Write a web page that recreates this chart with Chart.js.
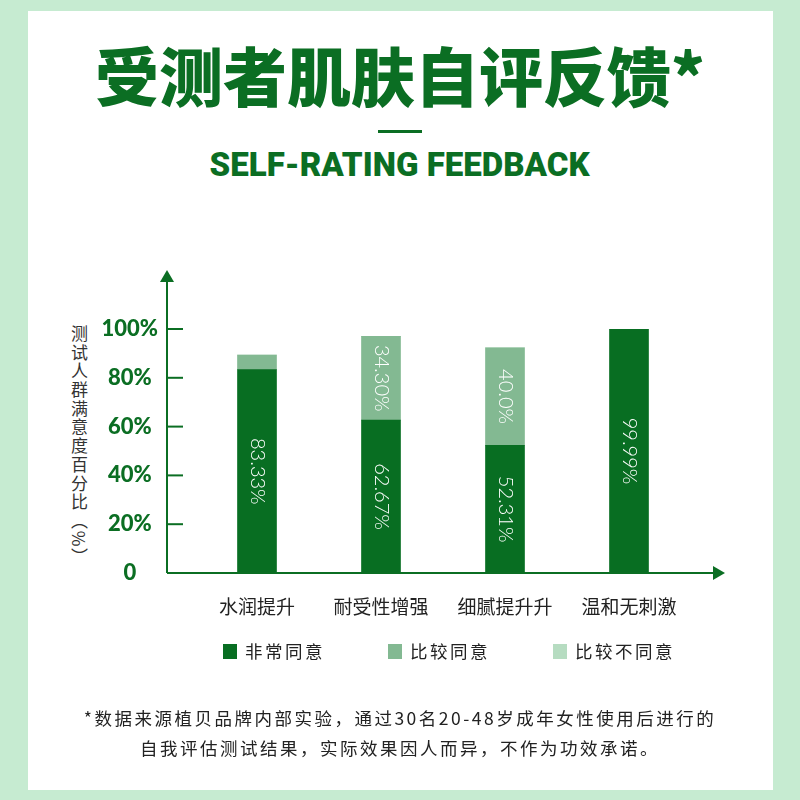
<!DOCTYPE html>
<html>
<head>
<meta charset="utf-8">
<script src="https://cdn.jsdelivr.net/npm/chart.js@4.4.0/dist/chart.umd.min.js"></script>
<style>
html, body { margin: 0; padding: 0; }
body { width: 800px; height: 800px; background: #c6ebd1; position: relative; overflow: hidden; font-family: 'Noto Sans CJK SC', sans-serif; }
.panel { position: absolute; left: 28px; top: 11px; width: 745px; height: 779px; background: #fff; }
.title { position: absolute; left: 0; width: 800px; top: 34px; text-align: center; font-size: 64px; font-weight: 900; color: #0b6e23; line-height: 78px; white-space: nowrap; }
.rule { position: absolute; left: 378px; top: 130px; width: 44px; height: 3px; background: #0b6e23; }
.sub { position: absolute; left: 0; width: 800px; top: 145px; text-align: center; font-family: Roboto, sans-serif; font-weight: 900; font-size: 33px; line-height: 40px; color: #0b6e23; white-space: nowrap; }
.sub span, .title span { display: inline-block; transform-origin: center; }
.ytitle { position: absolute; left: 67px; top: 325px; writing-mode: vertical-rl; font-size: 17px; letter-spacing: 1.7px; color: #333; }
#chart { position: absolute; left: 0; top: 0; }
.legend { position: absolute; left: 223px; top: 641px; display: flex; font-size: 17.5px; letter-spacing: 2.5px; line-height: 20px; color: #222; }
.legend .item { display: flex; align-items: center; margin-right: 63px; }
.legend .box { width: 14px; height: 15px; margin-right: 8px; }
.note { position: absolute; left: 0; width: 800px; top: 703px; text-align: center; font-size: 17.5px; letter-spacing: 2.5px; line-height: 30px; color: #222; }
</style>
</head>
<body>
<div class="panel"></div>
<div class="title"><span id="titleText">受测者肌肤自评反馈*</span></div>
<div class="rule"></div>
<div class="sub"><span id="subText">SELF-RATING FEEDBACK</span></div>
<div class="ytitle">测试人群满意度百分比（%）</div>
<canvas id="chart" width="800" height="800"></canvas>
<div class="legend" id="legend"></div>
<div class="note">*数据来源植贝品牌内部实验，通过30名20-48岁成年女性使用后进行的<br>自我评估测试结果，实际效果因人而异，不作为功效承诺。</div>
<script>
// 数据
const categories = ['水润提升', '耐受性增强', '细腻提升升', '温和无刺激'];
const seriesNames = ['非常同意', '比较同意', '比较不同意'];
const veryAgree = [83.33, 62.67, 52.31, 99.99];
const agree = [6, 34.30, 40.0, 0];
const disagree = [0, 0, 0, 0];
const veryAgreeLabels = ['83.33%', '62.67%', '52.31%', '99.99%'];
const agreeLabels = ['', '34.30%', '40.0%', ''];
const yTicks = [0, 20, 40, 60, 80, 100];

const green = '#0b6e23';
const colors = ['#086e22', '#83b992', '#b6dcc1'];

// 标题宽度微调
const fitWidth = (id, target) => {
    const el = document.getElementById(id);
    const w = el.getBoundingClientRect().width;
    if (w > 0) el.style.transform = 'scaleX(' + (target / w) + ')';
};
fitWidth('subText', 380);

// 图例
document.getElementById('legend').innerHTML = seriesNames.map((name, i) => `
    <div class="item"><span class="box" style="background:${colors[i]}"></span>${name}</div>
`).join('');

// 坐标轴箭头和刻度线
const axisArrows = {
    id: 'axisArrows',
    afterDatasetsDraw(chart) {
        const { ctx, scales: { x, y } } = chart;
        const ax = x.left - 28;
        const base = y.getPixelForValue(0);
        const yTop = y.top - 59;
        const xEnd = x.right + 34;
        ctx.save();
        ctx.strokeStyle = green;
        ctx.fillStyle = green;
        ctx.lineWidth = 2;
        ctx.beginPath();
        ctx.moveTo(ax, base);
        ctx.lineTo(ax, yTop + 10);
        ctx.moveTo(ax, base);
        ctx.lineTo(xEnd - 10, base);
        ctx.stroke();
        yTicks.filter(v => v > 0).forEach(v => {
            const py = y.getPixelForValue(v);
            ctx.beginPath();
            ctx.moveTo(ax, py);
            ctx.lineTo(ax + 16, py);
            ctx.stroke();
        });
        ctx.beginPath();
        ctx.moveTo(ax, yTop);
        ctx.lineTo(ax - 7, yTop + 12);
        ctx.lineTo(ax + 7, yTop + 12);
        ctx.closePath();
        ctx.fill();
        ctx.beginPath();
        ctx.moveTo(xEnd, base);
        ctx.lineTo(xEnd - 12, base - 7);
        ctx.lineTo(xEnd - 12, base + 7);
        ctx.closePath();
        ctx.fill();
        ctx.restore();
    }
};

// 柱内竖排数值
const barLabels = {
    id: 'barLabels',
    afterDatasetsDraw(chart) {
        const { ctx } = chart;
        const texts = [veryAgreeLabels, agreeLabels];
        ctx.save();
        ctx.fillStyle = '#fff';
        ctx.font = '300 20px Lato, "Open Sans", sans-serif';
        ctx.textAlign = 'center';
        ctx.textBaseline = 'middle';
        texts.forEach((list, di) => {
            chart.getDatasetMeta(di).data.forEach((bar, i) => {
                if (!list[i]) return;
                ctx.save();
                ctx.translate(bar.x, (bar.y + bar.base) / 2);
                ctx.rotate(Math.PI / 2);
                ctx.fillText(list[i], 0, 0);
                ctx.restore();
            });
        });
        ctx.restore();
    }
};

new Chart(document.getElementById('chart'), {
    type: 'bar',
    data: {
        labels: categories,
        datasets: [
            { label: seriesNames[0], data: veryAgree, backgroundColor: colors[0], barThickness: 39 },
            { label: seriesNames[1], data: agree, backgroundColor: colors[1], barThickness: 39 },
            { label: seriesNames[2], data: disagree, backgroundColor: colors[2], barThickness: 39 }
        ]
    },
    options: {
        responsive: false,
        animation: false,
        layout: { padding: { left: 0, top: 329, right: 109, bottom: 167 } },
        plugins: {
            legend: { display: false },
            tooltip: { enabled: false }
        },
        scales: {
            x: {
                stacked: true,
                offset: true,
                grid: { display: false, drawTicks: false },
                border: { display: false },
                ticks: {
                    padding: 22,
                    color: '#222',
                    font: { family: '"Noto Sans CJK SC", sans-serif', size: 19 }
                },
                afterFit(scale) { scale.height = 60; }
            },
            y: {
                stacked: true,
                min: 0,
                max: 100,
                afterBuildTicks(scale) { scale.ticks = yTicks.map(v => ({ value: v })); },
                grid: { display: false, drawTicks: false },
                border: { display: false },
                ticks: {
                    padding: 37,
                    crossAlign: 'center',
                    color: green,
                    font: { family: 'Lato, sans-serif', size: 22, weight: 900 },
                    callback: (v) => v === 0 ? '0' : v + '%'
                },
                afterFit(scale) { scale.width = 195; }
            }
        }
    },
    plugins: [axisArrows, barLabels]
});
</script>
</body>
</html>
